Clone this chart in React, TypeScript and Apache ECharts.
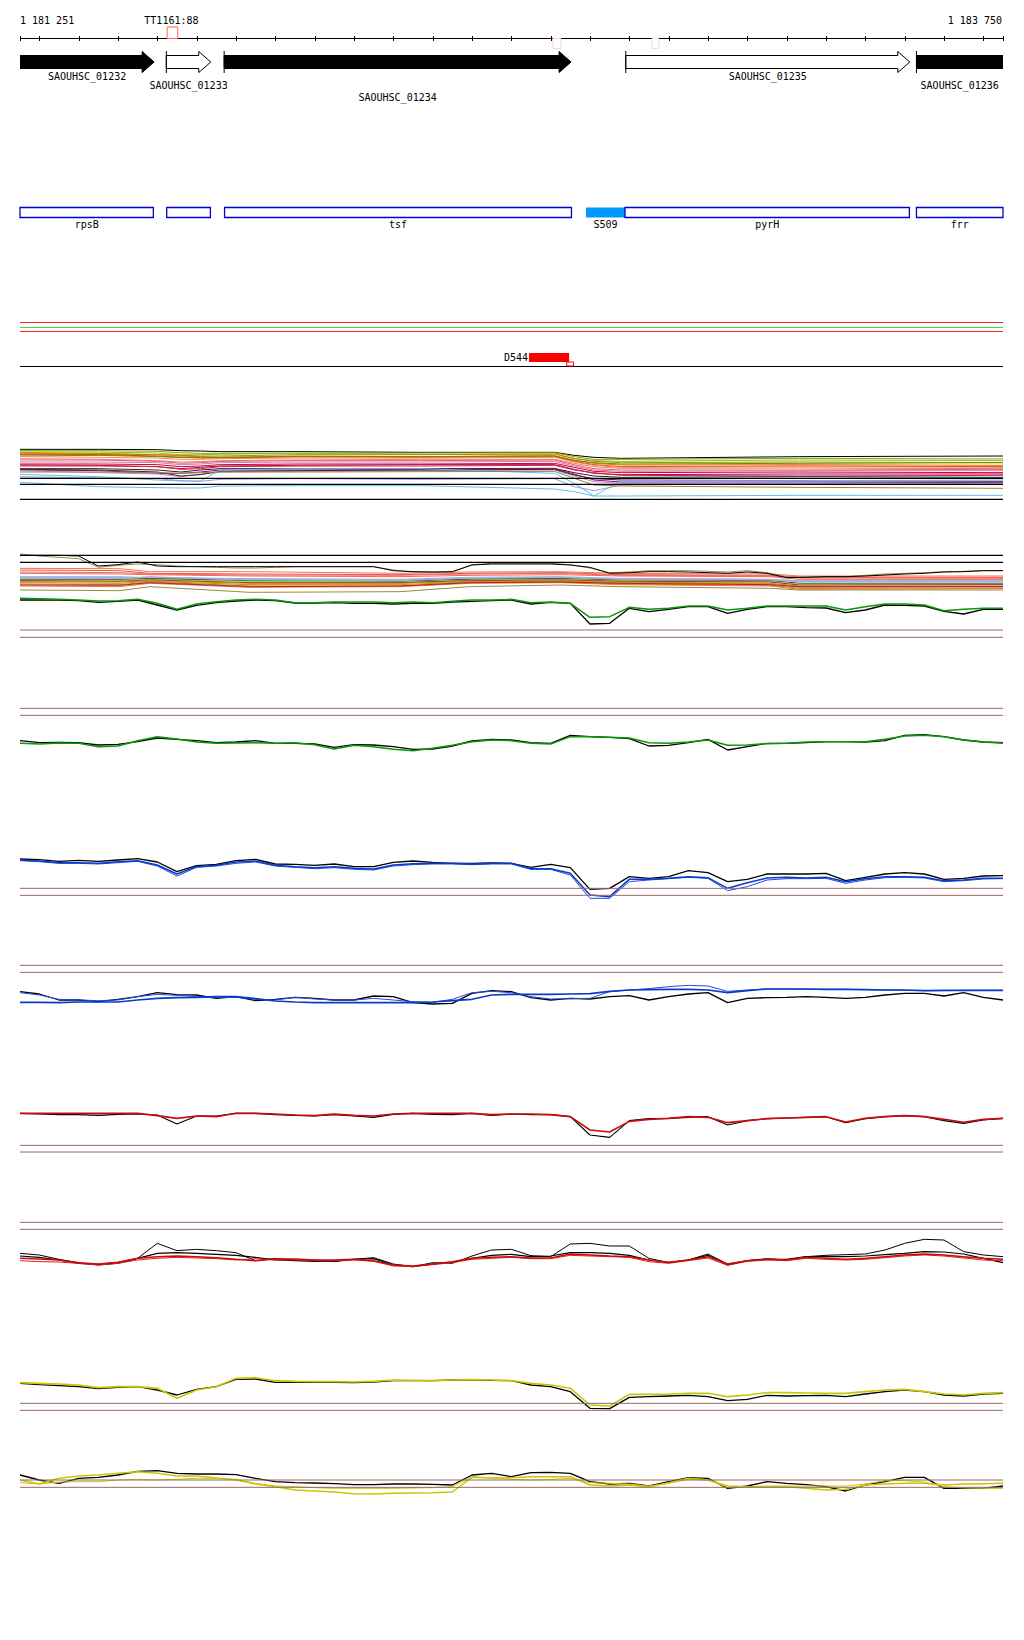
import React, { useEffect, useRef } from "react";
import * as echarts from "echarts";

// ---------- genomic window ----------
const X_MIN = 1181251;
const X_MAX = 1183750;
const RANGE_LABELS = ["1 181 251", "1 183 750"];
const TICKS = [1181251, 1181300, 1181400, 1181500, 1181600, 1181700, 1181800, 1181900, 1182000, 1182100, 1182200, 1182300, 1182400, 1182500, 1182600, 1182700, 1182800, 1182900, 1183000, 1183100, 1183200, 1183300, 1183400, 1183500, 1183600, 1183700, 1183750];

// ---------- genes ----------
const GENE_NAMES = ["SAOUHSC_01232", "SAOUHSC_01233", "SAOUHSC_01234", "SAOUHSC_01235", "SAOUHSC_01236"];
const GENE_START = [1180900, 1181623, 1181770, 1182791, 1183530];
const GENE_END = [1181592, 1181736, 1182652, 1183513, 1184100];
const GENE_FILLED = [1, 0, 1, 0, 1];
const GENE_ROW = [0, 1, 2, 0, 1];

// ---------- annotation boxes ----------
const FEAT_NAMES = ["rpsB", "", "tsf", "S509", "pyrH", "frr"];
const FEAT_START = [1181251, 1181624, 1181771, 1182690, 1182789, 1183530];
const FEAT_END = [1181590, 1181735, 1182653, 1182789, 1183512, 1183750];
const FEAT_FILLED = [0, 0, 0, 1, 0, 0];

// ---------- site markers ----------
const SITE_LABEL = "TT1161:88";
const SITE_START = [1181625, 1182606, 1182858];
const SITE_END = [1181652, 1182626, 1182875];
const SITE_KIND = [0, 1, 1];

const D_LABEL = "D544";
const D_START = [1182545, 1182641];
const D_END = [1182647, 1182658];
const D_KIND = [0, 1];

// ---------- profile positions ----------
const POS = [1181251, 1181300, 1181350, 1181400, 1181450, 1181500, 1181550, 1181600, 1181650, 1181700, 1181750, 1181800, 1181850, 1181900, 1181950, 1182000, 1182050, 1182100, 1182150, 1182200, 1182250, 1182300, 1182350, 1182400, 1182450, 1182500, 1182550, 1182600, 1182650, 1182700, 1182750, 1182800, 1182850, 1182900, 1182950, 1183000, 1183050, 1183100, 1183150, 1183200, 1183250, 1183300, 1183350, 1183400, 1183450, 1183500, 1183550, 1183600, 1183650, 1183700, 1183750];

// Panel A (dense bundle)
const PA = [1181251, 1181450, 1181600, 1181660, 1181710, 1181760, 1181960, 1182270, 1182610, 1182660, 1182710, 1182780, 1183230, 1183750];
const A_COLORS = ["#000000", "#9a9a00", "#66dd00", "#b8860b", "#ff6600", "#a0522d", "#808000", "#ff7755", "#cc6688", "#cc0033", "#aa0066", "#dd2222", "#222244", "#990099", "#bb88cc", "#442222", "#66bbee", "#9999dd", "#66bbee", "#998833", "#ff8844", "#dd77aa"];
const A_BUNDLE = [
  [88, 88, 89, 92, 93, 95, 95, 97, 97, 106, 112, 115, 110, 108],
  [92, 92, 94, 98, 100, 100, 100, 99, 98, 110, 118, 118, 115, 117],
  [96, 96, 99, 104, 104, 103, 100, 103, 102, 115, 122, 124, 120, 122],
  [98, 100, 104, 106, 108, 108, 104, 104, 102, 116, 124, 128, 126, 128],
  [100, 102, 104, 108, 110, 112, 108, 110, 107, 120, 130, 135, 134, 136],
  [104, 104, 108, 112, 114, 114, 110, 112, 110, 124, 134, 140, 138, 140],
  [108, 106, 110, 112, 112, 112, 110, 110, 108, 122, 128, 132, 130, 128],
  [116, 118, 122, 126, 125, 122, 120, 118, 118, 130, 140, 145, 144, 146],
  [120, 120, 124, 130, 128, 124, 122, 122, 120, 134, 146, 150, 150, 148],
  [132, 132, 134, 140, 138, 134, 132, 132, 130, 142, 154, 158, 156, 158],
  [135, 136, 140, 146, 142, 138, 136, 134, 134, 148, 160, 164, 162, 162],
  [138, 138, 140, 148, 146, 140, 138, 138, 136, 150, 158, 166, 168, 166],
  [146, 146, 150, 156, 150, 146, 146, 146, 145, 158, 168, 172, 170, 172],
  [150, 152, 160, 160, 156, 150, 150, 148, 146, 162, 180, 186, 186, 188],
  [152, 158, 162, 170, 162, 156, 154, 152, 150, 168, 185, 190, 190, 190],
  [148, 150, 156, 168, 164, 154, 152, 150, 148, 165, 176, 180, 182, 184],
  [163, 170, 180, 183, 183, 150, 146, 146, 160, 190, 228, 182, 182, 180],
  [170, 174, 176, 182, 184, 178, 176, 178, 176, 200, 212, 195, 190, 192],
  [187, 200, 203, 204, 204, 198, 197, 197, 207, 215, 228, 228, 226, 226],
  [156, 156, 158, 160, 158, 156, 156, 155, 154, 175, 195, 198, 202, 205],
  [110, 112, 114, 118, 118, 116, 114, 114, 112, 126, 136, 142, 140, 142],
  [126, 126, 128, 134, 132, 128, 126, 126, 124, 138, 150, 154, 152, 152],
];
const A_REFS = [175, 193, 238];

// Panel B
const PB = [1181251, 1181505, 1181581, 1181836, 1182217, 1182395, 1182624, 1182776, 1183157, 1183234, 1183750];
const B_COLORS = ["#ee7755", "#ff5511", "#dd66aa", "#ff6644", "#66bbee", "#aaaadd", "#222255", "#66ee11", "#cc1144", "#999900", "#cc8800", "#cc7733", "#ee7722", "#cc99cc", "#998844", "#aa2233"];
const B_BUNDLE = [
  [85, 86, 95, 95, 100, 96, 95, 100, 102, 108, 108],
  [90, 92, 100, 102, 104, 100, 98, 104, 106, 112, 112],
  [96, 98, 102, 105, 106, 102, 100, 106, 108, 114, 115],
  [100, 102, 104, 108, 110, 106, 104, 108, 110, 118, 118],
  [112, 112, 112, 116, 118, 112, 110, 115, 118, 122, 122],
  [110, 110, 114, 118, 120, 116, 114, 116, 118, 124, 124],
  [118, 118, 116, 122, 124, 118, 116, 120, 122, 130, 130],
  [120, 121, 118, 124, 126, 120, 118, 122, 124, 132, 132],
  [122, 124, 120, 128, 128, 122, 120, 124, 126, 135, 134],
  [125, 126, 122, 130, 130, 124, 122, 126, 130, 138, 138],
  [128, 130, 124, 134, 134, 126, 124, 128, 132, 142, 140],
  [132, 134, 126, 138, 138, 128, 126, 132, 136, 145, 144],
  [138, 140, 130, 142, 140, 130, 128, 134, 138, 148, 146],
  [115, 116, 110, 120, 122, 114, 112, 118, 120, 126, 126],
  [150, 152, 140, 157, 155, 140, 135, 140, 145, 150, 150],
  [135, 136, 128, 140, 138, 128, 126, 130, 134, 140, 140],
];
const B_BLACK_WAVE = [46, 46, 46, 48, 78, 74, 66, 78, 80, 80, 80, 80, 80, 80, 80, 80, 80, 80, 80, 92, 95, 96, 95, 75, 72, 72, 72, 72, 75, 82, 100, 98, 95, 95, 96, 98, 100, 96, 100, 113, 112, 110, 110, 108, 105, 102, 100, 96, 95, 92, 92];
const B_TAN = [42, 48, 52, 56, 82, 76, 72, 74, 78, 80, 82, 84, 84, 82, 80, 80, 80, 80, 80, 90, 96, 96, 96, 74, 70, 70, 70, 70, 74, 84, 98, 96, 92, 92, 92, 94, 96, 92, 98, 110, 110, 110, 110, 106, 102, 100, 98, 95, 94, 92, 92];
const B_GREEN = [175, 176, 178, 180, 183, 182, 178, 190, 208, 192, 185, 180, 178, 180, 188, 188, 186, 186, 186, 188, 186, 188, 184, 180, 180, 178, 188, 186, 190, 232, 230, 202, 208, 205, 198, 198, 210, 205, 198, 198, 198, 198, 210, 200, 192, 192, 195, 212, 208, 205, 205];
const B_BLACK = [180, 180, 180, 182, 187, 184, 180, 195, 210, 196, 188, 183, 180, 182, 189, 189, 188, 190, 190, 192, 190, 190, 186, 184, 182, 180, 192, 187, 190, 252, 250, 205, 215, 208, 200, 200, 220, 208, 200, 200, 203, 204, 218, 210, 195, 196, 198, 214, 222, 208, 208];
const B_REFS_BLACK = [46, 67];
const B_REFS = [270, 292];

// Panel C (green) and D (blue)
const C_GREEN = [130, 132, 129, 130, 140, 138, 122, 110, 117, 126, 130, 129, 128, 130, 128, 134, 147, 136, 140, 148, 152, 145, 136, 125, 120, 122, 130, 132, 110, 110, 112, 114, 128, 130, 126, 120, 136, 135, 131, 130, 126, 125, 125, 125, 118, 108, 106, 110, 120, 126, 130];
const C_BLACK = [122, 128, 127, 128, 135, 133, 125, 114, 118, 122, 128, 126, 122, 130, 130, 132, 142, 134, 135, 140, 148, 147, 138, 123, 118, 120, 128, 130, 106, 110, 112, 116, 138, 136, 128, 118, 150, 140, 130, 130, 128, 125, 125, 126, 122, 106, 104, 110, 120, 126, 128];
const D_BLUE = [480, 483, 488, 488, 490, 485, 482, 495, 522, 500, 496, 486, 483, 496, 500, 503, 500, 505, 507, 495, 491, 490, 490, 492, 490, 490, 506, 506, 520, 585, 590, 538, 538, 535, 530, 533, 565, 548, 534, 532, 534, 532, 545, 536, 530, 530, 532, 542, 540, 535, 535];
const D_BLUE2 = [482, 485, 490, 490, 492, 488, 484, 498, 528, 502, 498, 490, 486, 498, 502, 506, 503, 508, 510, 498, 494, 492, 492, 494, 492, 492, 508, 508, 525, 595, 595, 545, 540, 536, 532, 535, 572, 560, 540, 536, 536, 535, 550, 540, 533, 532, 534, 545, 542, 537, 536];
const D_BLACK = [477, 479, 484, 481, 484, 480, 476, 486, 515, 497, 493, 482, 478, 492, 493, 496, 492, 500, 500, 487, 483, 487, 490, 490, 489, 490, 502, 493, 503, 568, 565, 530, 535, 530, 512, 518, 545, 538, 522, 522, 522, 520, 542, 532, 522, 518, 522, 538, 535, 528, 527];
const CD_REFS = [25, 46, 565, 586];

// Panel E (blue) and F (red)
const E_BLACK = [125, 132, 150, 150, 155, 148, 140, 128, 134, 135, 145, 140, 152, 148, 142, 145, 150, 150, 138, 140, 158, 162, 160, 130, 122, 125, 143, 150, 145, 147, 140, 137, 150, 140, 132, 128, 158, 145, 143, 142, 140, 142, 145, 142, 135, 130, 130, 138, 128, 142, 150];
const E_BLUE = [157, 157, 158, 156, 156, 156, 150, 145, 143, 142, 140, 140, 146, 153, 156, 158, 158, 158, 158, 158, 158, 156, 152, 148, 135, 133, 133, 133, 132, 131, 124, 120, 119, 118, 118, 120, 128, 122, 117, 117, 117, 118, 118, 119, 120, 120, 122, 121, 121, 121, 121];
const E_BLUE2 = [128, 135, 148, 150, 152, 150, 140, 133, 136, 140, 143, 142, 148, 150, 142, 147, 150, 150, 145, 150, 155, 157, 148, 128, 124, 128, 140, 147, 146, 145, 125, 120, 116, 110, 106, 108, 124, 120, 117, 117, 118, 118, 118, 119, 120, 121, 122, 122, 121, 121, 121];
const F_RED = [490, 490, 490, 490, 490, 490, 490, 497, 505, 498, 500, 490, 490, 492, 495, 497, 492, 496, 498, 492, 490, 490, 490, 490, 494, 492, 492, 494, 500, 540, 546, 514, 508, 505, 500, 502, 518, 512, 506, 504, 502, 500, 516, 505, 500, 497, 500, 508, 517, 508, 505];
const F_BLACK = [490, 492, 494, 494, 496, 493, 492, 495, 522, 498, 498, 490, 490, 494, 496, 498, 494, 498, 502, 493, 490, 493, 494, 490, 496, 492, 494, 494, 500, 555, 562, 512, 506, 505, 502, 500, 525, 512, 506, 504, 502, 500, 518, 506, 500, 497, 500, 512, 520, 510, 505];
const EF_REFS = [46, 67, 586, 606];

// Panel G (red) and H (yellow)
const G_BLACK = [130, 135, 148, 158, 165, 160, 145, 100, 122, 118, 122, 128, 152, 145, 150, 150, 155, 148, 143, 162, 170, 158, 160, 138, 120, 118, 137, 140, 102, 100, 108, 108, 145, 158, 150, 132, 162, 152, 146, 150, 140, 136, 134, 132, 120, 100, 88, 90, 125, 135, 140];
const G_BLACK2 = [138, 142, 150, 160, 163, 158, 145, 130, 128, 130, 133, 136, 142, 150, 152, 154, 153, 148, 146, 165, 170, 162, 156, 145, 136, 133, 140, 138, 128, 128, 130, 136, 150, 158, 150, 136, 165, 152, 148, 148, 140, 140, 140, 138, 134, 130, 125, 126, 132, 145, 158];
const G_RED = [145, 147, 150, 158, 162, 157, 145, 140, 138, 140, 143, 148, 152, 147, 147, 150, 150, 148, 152, 165, 168, 162, 155, 145, 142, 140, 144, 144, 132, 135, 138, 140, 150, 157, 150, 140, 162, 152, 148, 150, 142, 145, 148, 145, 140, 135, 132, 135, 140, 145, 148];
const G_RED2 = [152, 155, 156, 160, 165, 160, 150, 145, 142, 144, 146, 150, 146, 150, 150, 152, 152, 150, 154, 168, 170, 164, 158, 148, 145, 142, 146, 146, 136, 138, 140, 142, 155, 160, 152, 144, 166, 154, 150, 152, 145, 148, 150, 148, 143, 138, 135, 138, 144, 150, 152];
const H_YELLOW = [518, 520, 522, 525, 533, 530, 530, 535, 565, 540, 530, 505, 503, 512, 514, 515, 515, 516, 514, 510, 511, 512, 510, 509, 510, 512, 520, 525, 535, 585, 588, 553, 553, 552, 550, 550, 560, 555, 548, 548, 549, 550, 550, 545, 540, 538, 545, 552, 555, 550, 548];
const H_BLACK = [520, 524, 527, 530, 536, 532, 530, 540, 555, 538, 530, 508, 507, 517, 517, 517, 517, 518, 516, 512, 512, 512, 510, 510, 511, 512, 525, 530, 545, 595, 596, 562, 560, 558, 556, 560, 572, 568, 556, 558, 557, 556, 560, 552, 545, 540, 545, 555, 558, 552, 550];
const GH_REFS = [37, 58, 580, 601];

// Panel I (yellow)
const I_BLACK = [285, 300, 310, 295, 292, 285, 274, 272, 280, 282, 282, 284, 295, 305, 308, 309, 311, 314, 314, 312, 312, 313, 315, 285, 280, 290, 278, 277, 280, 305, 312, 310, 318, 305, 293, 295, 325, 318, 305, 310, 314, 320, 333, 315, 305, 292, 292, 325, 325, 325, 318];
const I_YELLOW = [300, 312, 295, 288, 285, 280, 275, 280, 288, 288, 294, 300, 312, 320, 330, 333, 336, 341, 342, 340, 339, 338, 336, 292, 294, 293, 290, 290, 290, 315, 318, 315, 320, 308, 295, 300, 318, 320, 320, 320, 325, 330, 328, 315, 312, 310, 310, 315, 312, 311, 310];
const I_YELLOW2 = [308, 312, 306, 305, 305, 300, 298, 300, 298, 295, 295, 298, 310, 318, 320, 323, 325, 325, 325, 325, 324, 323, 320, 290, 294, 298, 300, 298, 295, 308, 310, 312, 318, 310, 298, 300, 322, 320, 318, 318, 318, 318, 318, 312, 302, 302, 306, 320, 324, 325, 325];
const I_REFS = [300, 322];

// ---------- layout ----------
const FONT = '10px "DejaVu Sans Mono", monospace';
const GRIDS = [
  { top: 0, height: 400, ymax: 400 },
  { top: 420, height: 100, ymax: 300 },
  { top: 540, height: 110, ymax: 330 },
  { top: 700, height: 210, ymax: 630 },
  { top: 950, height: 210, ymax: 630 },
  { top: 1210, height: 210, ymax: 630 },
  { top: 1380, height: 150, ymax: 450 },
];
const BROWN = "#9c6666";

function line(name: string, g: number, xs: number[], ys: number[], color: string, width: number, z = 2) {
  return {
    type: "line",
    name,
    xAxisIndex: g,
    yAxisIndex: g,
    data: xs.map((x, i) => [x, ys[i]]),
    showSymbol: false,
    symbol: "none",
    lineStyle: { color, width },
    itemStyle: { color },
    silent: true,
    clip: true,
    z,
    emphasis: { disabled: true },
  };
}

function refs(name: string, g: number, vals: number[], color: string, width = 1) {
  return vals.map((v, i) => line(name + i, g, [X_MIN, X_MAX], [v, v], color, width, 3));
}

function buildOption() {
  const series: any[] = [];

  // ticks
  series.push({
    type: "custom",
    xAxisIndex: 0,
    yAxisIndex: 0,
    silent: true,
    data: TICKS.map((t) => [t, 0]),
    renderItem: (_p: any, api: any) => {
      const x = Math.round(api.coord([api.value(0), 0])[0]) + 0.5;
      return { type: "line", shape: { x1: x, y1: 36, x2: x, y2: 41 }, style: { stroke: "#000", lineWidth: 1 } };
    },
  });

  // genes
  series.push({
    type: "custom",
    xAxisIndex: 0,
    yAxisIndex: 0,
    silent: true,
    clip: true,
    data: GENE_NAMES.map((_n, i) => [GENE_START[i], GENE_END[i], GENE_FILLED[i], GENE_ROW[i]]),
    renderItem: (params: any, api: any) => {
      const i = params.dataIndex;
      const x0 = api.coord([api.value(0), 0])[0];
      const x1 = api.coord([api.value(1), 0])[0];
      const filled = api.value(2) === 1;
      const hb = x1 - 12;
      const cs = params.coordSys;
      const visL = Math.max(x0, cs.x);
      const visR = Math.min(x1, cs.x + cs.width);
      const labelY = [76, 85.5, 97.5][api.value(3)];
      return {
        type: "group",
        children: [
          {
            type: "polygon",
            shape: { points: [[x0, 55.5], [hb, 55.5], [hb, 51.5], [x1, 62], [hb, 72.5], [hb, 68.5], [x0, 68.5]] },
            style: { fill: filled ? "#000" : "#fff", stroke: "#000", lineWidth: 1 },
          },
          { type: "line", shape: { x1: x0, y1: 51, x2: x0, y2: 73 }, style: { stroke: "#000", lineWidth: 1 } },
          {
            type: "text",
            style: { text: GENE_NAMES[i], x: (visL + visR) / 2, y: labelY, font: FONT, fill: "#000", align: "center", verticalAlign: "middle" },
          },
        ],
      };
    },
  });

  // annotation boxes
  series.push({
    type: "custom",
    xAxisIndex: 0,
    yAxisIndex: 0,
    silent: true,
    data: FEAT_NAMES.map((_n, i) => [FEAT_START[i], FEAT_END[i], FEAT_FILLED[i]]),
    renderItem: (params: any, api: any) => {
      const i = params.dataIndex;
      const x0 = api.coord([api.value(0), 0])[0];
      const x1 = api.coord([api.value(1), 0])[0];
      const filled = api.value(2) === 1;
      return {
        type: "group",
        children: [
          {
            type: "rect",
            shape: { x: x0, y: 207.5, width: x1 - x0, height: 10 },
            style: filled ? { fill: "#0099ff" } : { fill: "#fff", stroke: "#0000dd", lineWidth: 1.3 },
          },
          {
            type: "text",
            style: { text: FEAT_NAMES[i], x: (x0 + x1) / 2, y: 224.5, font: FONT, fill: "#000", align: "center", verticalAlign: "middle" },
          },
        ],
      };
    },
  });

  // site markers on the ruler
  series.push({
    type: "custom",
    xAxisIndex: 0,
    yAxisIndex: 0,
    silent: true,
    z: 5,
    data: SITE_START.map((s, i) => [s, SITE_END[i], SITE_KIND[i]]),
    renderItem: (_params: any, api: any) => {
      const x0 = api.coord([api.value(0), 0])[0];
      const x1 = api.coord([api.value(1), 0])[0];
      const kind = api.value(2);
      if (kind === 0) {
        return {
          type: "group",
          children: [
            { type: "rect", shape: { x: x0, y: 27, width: x1 - x0, height: 11.5 }, style: { fill: "none", stroke: "#ff6a4d", lineWidth: 1 } },
            { type: "text", style: { text: SITE_LABEL, x: (x0 + x1) / 2 - 1, y: 20.5, font: FONT, fill: "#000", align: "center", verticalAlign: "middle" } },
          ],
        };
      }
      return { type: "rect", shape: { x: x0, y: 38.5, width: x1 - x0, height: 10 }, style: { fill: "none", stroke: "#ffd6c8", lineWidth: 1 } };
    },
  });

  // D544 region
  series.push({
    type: "custom",
    xAxisIndex: 0,
    yAxisIndex: 0,
    silent: true,
    z: 5,
    data: D_START.map((s, i) => [s, D_END[i], D_KIND[i]]),
    renderItem: (_params: any, api: any) => {
      const x0 = api.coord([api.value(0), 0])[0];
      const x1 = api.coord([api.value(1), 0])[0];
      if (api.value(2) === 0) {
        return {
          type: "group",
          children: [
            { type: "rect", shape: { x: x0, y: 353, width: x1 - x0, height: 9 }, style: { fill: "#ff0000" } },
            { type: "text", style: { text: D_LABEL, x: x0 - 1, y: 357.5, font: FONT, fill: "#000", align: "right", verticalAlign: "middle" } },
          ],
        };
      }
      return { type: "rect", shape: { x: x0, y: 362, width: x1 - x0, height: 4 }, style: { fill: "#fff", stroke: "#ff0000", lineWidth: 1 } };
    },
  });

  // Panel A
  A_BUNDLE.forEach((vals, i) => series.push(line("A" + i, 1, PA, vals, A_COLORS[i], 1)));
  series.push(...refs("Aref", 1, A_REFS, "#000000", 1.2));

  // Panel B
  B_BUNDLE.forEach((vals, i) => series.push(line("B" + i, 2, PB, vals, B_COLORS[i], 1)));
  series.push(line("Btan", 2, POS, B_TAN, "#9a8a4a", 1));
  series.push(line("Bwave", 2, POS, B_BLACK_WAVE, "#000000", 1));
  series.push(...refs("Bblk", 2, B_REFS_BLACK, "#000000", 1.2));
  series.push(line("Bblack", 2, POS, B_BLACK, "#000000", 1.3));
  series.push(line("Bgreen", 2, POS, B_GREEN, "#0a960a", 1.5));
  series.push(...refs("Bref", 2, B_REFS, BROWN));

  // Panels C & D
  series.push(...refs("CDref", 3, CD_REFS, BROWN));
  series.push(line("Cblack", 3, POS, C_BLACK, "#000000", 1.3));
  series.push(line("Cgreen", 3, POS, C_GREEN, "#0a960a", 1.5));
  series.push(line("Dblack", 3, POS, D_BLACK, "#000000", 1.3));
  series.push(line("Dblue2", 3, POS, D_BLUE2, "#1f4fe0", 1));
  series.push(line("Dblue", 3, POS, D_BLUE, "#0a3acc", 1.5));

  // Panels E & F
  series.push(...refs("EFref", 4, EF_REFS, BROWN));
  series.push(line("Eblack", 4, POS, E_BLACK, "#000000", 1.3));
  series.push(line("Eblue2", 4, POS, E_BLUE2, "#1f4fe0", 1));
  series.push(line("Eblue", 4, POS, E_BLUE, "#0a3acc", 1.6));
  series.push(line("Fblack", 4, POS, F_BLACK, "#000000", 1.1));
  series.push(line("Fred", 4, POS, F_RED, "#cc0a0a", 1.6));

  // Panels G & H
  series.push(...refs("GHref", 5, GH_REFS, BROWN));
  series.push(line("Gblack", 5, POS, G_BLACK, "#000000", 1));
  series.push(line("Gblack2", 5, POS, G_BLACK2, "#000000", 1.2));
  series.push(line("Gred2", 5, POS, G_RED2, "#dd2222", 1));
  series.push(line("Gred", 5, POS, G_RED, "#cc0a0a", 1.5));
  series.push(line("Hblack", 5, POS, H_BLACK, "#000000", 1.3));
  series.push(line("Hyellow", 5, POS, H_YELLOW, "#c8c800", 1.6));

  // Panel I
  series.push(...refs("Iref", 6, I_REFS, BROWN));
  series.push(line("Iblack", 6, POS, I_BLACK, "#000000", 1.3));
  series.push(line("Iyellow2", 6, POS, I_YELLOW2, "#c8c800", 1));
  series.push(line("Iyellow", 6, POS, I_YELLOW, "#c8c800", 1.5));

  return {
    animation: false,
    backgroundColor: "#ffffff",
    grid: GRIDS.map((g) => ({ left: 20, right: 21, top: g.top, height: g.height, containLabel: false })),
    xAxis: GRIDS.map((_g, i) => ({ type: "value", gridIndex: i, min: X_MIN, max: X_MAX, show: false })),
    yAxis: GRIDS.map((g, i) => ({ type: "value", gridIndex: i, min: 0, max: g.ymax, inverse: true, show: false })),
    graphic: [
      { type: "text", x: 20, y: 20.5, silent: true, style: { text: RANGE_LABELS[0], font: FONT, fill: "#000", align: "left", textAlign: "left", verticalAlign: "middle", textVerticalAlign: "middle" } },
      { type: "text", x: 1002, y: 20.5, silent: true, style: { text: RANGE_LABELS[1], font: FONT, fill: "#000", align: "right", textAlign: "right", verticalAlign: "middle", textVerticalAlign: "middle" } },
      { type: "line", silent: true, shape: { x1: 20, y1: 38.5, x2: 1003, y2: 38.5 }, style: { stroke: "#000", lineWidth: 1 } },
      { type: "line", silent: true, shape: { x1: 20, y1: 322.5, x2: 1003, y2: 322.5 }, style: { stroke: "#ff2020", lineWidth: 1.2 } },
      { type: "line", silent: true, shape: { x1: 20, y1: 327.5, x2: 1003, y2: 327.5 }, style: { stroke: "#33dd33", lineWidth: 1.2 } },
      { type: "line", silent: true, shape: { x1: 20, y1: 331.5, x2: 1003, y2: 331.5 }, style: { stroke: "#ff2020", lineWidth: 1.2 } },
      { type: "line", silent: true, shape: { x1: 20, y1: 366.5, x2: 1003, y2: 366.5 }, style: { stroke: "#000", lineWidth: 1.2 } },
    ],
    series,
  };
}

export default function App() {
  const ref = useRef<HTMLDivElement>(null);
  useEffect(() => {
    if (!ref.current) return;
    const chart = echarts.init(ref.current, null, { renderer: "svg" });
    chart.setOption(buildOption() as any);
    return () => chart.dispose();
  }, []);
  return (
    <div
      ref={ref}
      style={{ position: "absolute", left: 0, top: 0, width: 1024, height: 1640, background: "#ffffff" }}
    />
  );
}
